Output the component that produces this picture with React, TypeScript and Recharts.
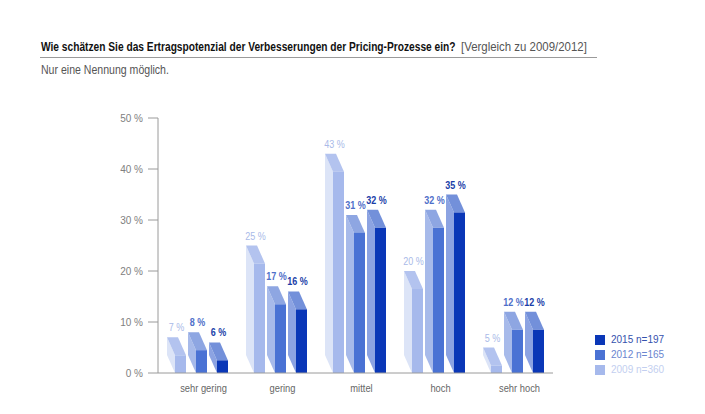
import { Bar, BarChart, LabelList, XAxis, YAxis } from 'recharts'

// Survey answers per category, share of respondents in percent
const CATEGORIES = ['sehr gering', 'gering', 'mittel', 'hoch', 'sehr hoch']
const VALUES_2009 = [7, 25, 43, 20, 5]
const VALUES_2012 = [8, 17, 31, 32, 12]
const VALUES_2015 = [6, 16, 32, 35, 12]
const Y_TICKS = [0, 10, 20, 30, 40, 50]

const FONT = '"Liberation Sans", Arial, sans-serif'

type Series = {
  key: string
  year: string
  n: string
  front: string
  top: string
  side: string
  label: string
  weight: number
  legendText: string
}

// draw order left→right is 2009, 2012, 2015; legend lists newest first
const SERIES: Series[] = [
  {
    key: 'y2009', year: '2009', n: 'n=360',
    front: '#a6b9ec', top: '#b3c3ef', side: '#dce4f7',
    label: '#a9bae8', weight: 400, legendText: '#c3cff0',
  },
  {
    key: 'y2012', year: '2012', n: 'n=165',
    front: '#4a72d4', top: '#8ea6e2', side: '#a7baea',
    label: '#4f6fc9', weight: 700, legendText: '#6a86cf',
  },
  {
    key: 'y2015', year: '2015', n: 'n=197',
    front: '#0a37b7', top: '#7390da', side: '#8ca3e2',
    label: '#1a3ea8', weight: 700, legendText: '#3552ad',
  },
]

const rows = CATEGORIES.map((name, i) => ({
  name,
  y2009: VALUES_2009[i],
  y2012: VALUES_2012[i],
  y2015: VALUES_2015[i],
}))

// oblique depth of the fake-3D prisms
const DX = 8
const DY = 18

function Prism(props: any) {
  const { x, y, width: w, height: h, s } = props as { x: number; y: number; width: number; height: number; s: Series }
  if (!h || h <= 0) return null
  const top = `${x},${y} ${x + w - DX},${y} ${x + w},${y + DY} ${x + DX},${y + DY}`
  const side = `${x},${y} ${x + DX},${y + DY} ${x + DX},${y + h} ${x},${y + h - DY}`
  return (
    <g>
      <polygon points={side} fill={s.side} />
      <polygon points={top} fill={s.top} />
      <rect x={x + DX} y={y + DY} width={w - DX} height={h - DY} fill={s.front} />
    </g>
  )
}

// the original uses a condensed face; squeeze Liberation Sans a little
function CategoryTick({ x, y, payload }: any) {
  return (
    <g transform={`translate(${x + 6},${y + 11}) scale(0.89,1)`}>
      <text x={0} y={0} textAnchor="middle" fill="#666" fontSize={10.5} fontFamily={FONT}>
        {payload.value}
      </text>
    </g>
  )
}

function LegendBox() {
  return (
    <div style={{ position: 'absolute', left: 595, top: 334, fontFamily: FONT, fontSize: 10 }}>
      {[...SERIES].reverse().map((s, i) => (
        <div key={s.key} style={{ position: 'absolute', top: i * 15, left: 0, height: 12, width: 100 }}>
          <span style={{ position: 'absolute', left: 0, top: 1, width: 10, height: 10, background: s.front }} />
          <span style={{ position: 'absolute', left: 16, top: 0, color: s.legendText, lineHeight: '12px' }}>{s.year}</span>
          <span style={{ position: 'absolute', left: 41, top: 0, color: s.legendText, lineHeight: '12px' }}>{s.n}</span>
        </div>
      ))}
    </div>
  )
}

function Header() {
  return (
    <svg width={705} height={90} style={{ position: 'absolute', left: 0, top: 0 }}>
      <g transform="translate(41,51) scale(0.785,1)">
        <text x={0} y={0} fontFamily={FONT} fontSize={13} fontWeight={700} fill="#111">
          Wie schätzen Sie das Ertragspotenzial der Verbesserungen der Pricing-Prozesse ein?
        </text>
      </g>
      <g transform="translate(461,51) scale(0.88,1)">
        <text x={0} y={0} fontFamily={FONT} fontSize={13} fill="#555">
          [Vergleich zu 2009/2012]
        </text>
      </g>
      <line x1={40} x2={597} y1={57.5} y2={57.5} stroke="#9a9a9a" strokeWidth={1} />
      <g transform="translate(41,73.5) scale(0.88,1)">
        <text x={0} y={0} fontFamily={FONT} fontSize={12} fill="#555">
          Nur eine Nennung möglich.
        </text>
      </g>
    </svg>
  )
}

export default function App() {
  return (
    <div style={{ position: 'absolute', left: 0, top: 0, width: 705, height: 414, background: '#fff' }}>
      <Header />
      <BarChart
        width={705}
        height={414}
        data={rows}
        margin={{ top: 118, right: 152, bottom: 11, left: 98 }}
        barSize={19}
        barGap={2}
      >
        <XAxis
          dataKey="name"
          axisLine={{ stroke: '#9a9a9a' }}
          tickLine={false}
          tick={<CategoryTick />}
          height={30}
          interval={0}
        />
        <YAxis
          domain={[0, 50]}
          ticks={Y_TICKS}
          tickFormatter={(v: number) => `${v} %`}
          axisLine={{ stroke: '#9a9a9a' }}
          tickLine={{ stroke: '#9a9a9a' }}
          tickSize={10}
          tickMargin={5}
          tick={{ fill: '#808080', fontSize: 10, fontFamily: FONT }}
          width={60}
        />
        {SERIES.map((s) => (
          <Bar
            key={s.key}
            dataKey={s.key}
            isAnimationActive={false}
            shape={(p: any) => <Prism {...p} s={s} />}
          >
            <LabelList
              dataKey={s.key}
              content={(p: any) => (
                <g transform={`translate(${p.x + p.width / 2},${p.y - 6}) scale(0.9,1)`}>
                  <text
                    x={0}
                    y={0}
                    textAnchor="middle"
                    fill={s.label}
                    fontSize={10}
                    fontWeight={s.weight}
                    fontFamily={FONT}
                  >
                    {`${p.value} %`}
                  </text>
                </g>
              )}
            />
          </Bar>
        ))}
      </BarChart>
      <LegendBox />
    </div>
  )
}
